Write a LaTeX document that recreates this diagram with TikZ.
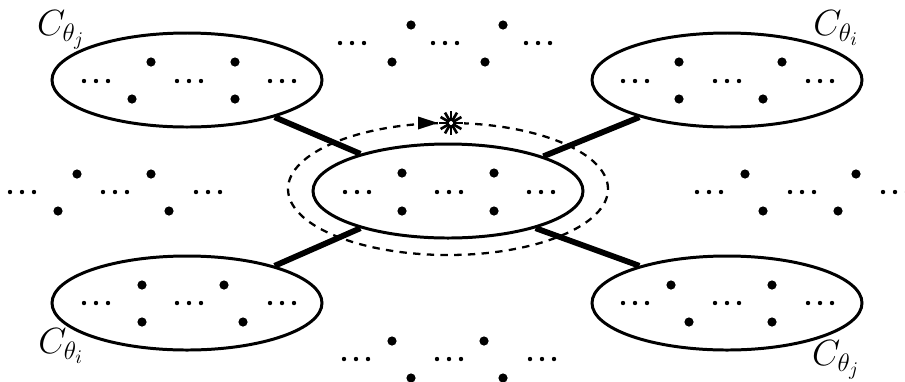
\documentclass[tikz,border=0pt]{standalone}
\usetikzlibrary{arrows.meta,shapes.geometric}
\begin{document}
\begin{tikzpicture}[x=.2mm,y=-.2mm,
 cls/.style={draw,ellipse,line width=1.7pt,minimum width=54mm,minimum height=18.8mm,inner sep=0pt},
 bond/.style={line width=3.3pt},
 lbl/.style={font=\fontsize{22}{26}\selectfont,inner sep=0pt}]
\useasboundingbox (0,0) rectangle (905,381);
% clusters
\node[cls] (tl) at (187,80) {};
\node[cls] (tr) at (727,80) {};
\node[cls] (bl) at (187,303) {};
\node[cls] (br) at (727,303) {};
\node[cls] (mid) at (448,191) {};
\node[draw,ellipse,line width=1.3pt,dash pattern=on 4.2pt off 3.6pt,minimum width=64mm,minimum height=26.4mm,inner sep=0pt] (orbit) at (448,189) {};
\node[lbl] (ltl) at (61,30) {$C_{\theta_j}$};
\node[lbl] (ltr) at (836,28) {$C_{\theta_i}$};
\node[lbl] (lbl) at (61,346) {$C_{\theta_i}$};
\node[lbl] (lbr) at (836,360) {$C_{\theta_j}$};
% bonds
\draw[bond] (tl.-23) -- (mid.157);
\draw[bond] (tr.-157) -- (mid.20);
\draw[bond] (bl.23) -- (mid.-157);
\draw[bond] (br.157) -- (mid.-23);
% marker on the orbit
\coordinate (spark) at (451,123);
\fill[white] (spark) circle (13);
\fill (spark) ++(-13,0) -- ++(-20,-6.5) -- ++(0,13) -- cycle;
\foreach \a in {0,30,...,330} \draw[line width=1.5pt] (spark) ++(\a:2) -- ++(\a:10);
% small dots
\foreach \x/\y in {96/81,189/81,282/81,635/81,727/81,820/81,
 96/303,189/303,282/303,635/303,727/303,820/303,
 357/192,449/192,541/192,352/43,445/43,538/43,356/359,449/359,542/359,
 22/192,115/192,208/192,709/192,802/192,895/192}
 \foreach \d in {-12,0,12} \fill (\x+\d,\y) circle (2.2);
% big dots
\foreach \x/\y in {151/62,235/62,132/99,235/99,679/62,782/62,679/99,763/99,
 142/285,224/285,142/322,243/322,671/285,772/285,689/322,772/322,
 402/173,494/173,402/211,494/211,411/25,503/25,392/62,485/62,
 392/341,484/341,411/378,503/378,77/174,151/174,58/211,169/211,
 745/174,856/174,763/211,838/211}
 \fill (\x,\y) circle (4.6);
\end{tikzpicture}
\end{document}
